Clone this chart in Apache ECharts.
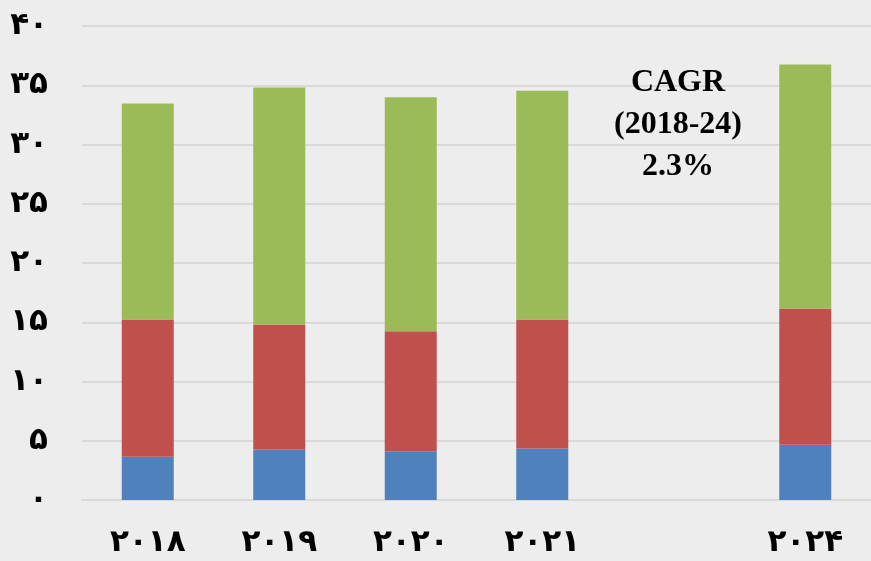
<!DOCTYPE html>
<html>
<head>
<meta charset="utf-8">
<script src="https://cdn.jsdelivr.net/npm/echarts@6/dist/echarts.min.js"></script>
<style>
  html, body { margin: 0; padding: 0; background: #ededed; }
  #chart { width: 871px; height: 561px; }
</style>
</head>
<body>
<div id="chart"></div>
<script>
// categories (empty slot between 2021 and 2024)
var years = ['۲۰۱۸', '۲۰۱۹', '۲۰۲۰', '۲۰۲۱', '', '۲۰۲۴'];
// stacked segments
var blueVals = [3.65, 4.26, 4.12, 4.35, null, 4.66];
var redVals = [11.58, 10.55, 10.13, 10.88, null, 11.50];
var greenVals = [18.23, 20.0, 19.74, 19.30, null, 20.59];
var persianDigits = ['۰', '۱', '۲', '۳', '۴', '۵', '۶', '۷', '۸', '۹'];
var noteLines = ['CAGR', '(2018-24)', '2.3%'];

function toPersian(n) {
    return String(n).replace(/[0-9]/g, function (d) { return persianDigits[+d]; });
}

document.addEventListener("DOMContentLoaded", function () {
    var myChart = echarts.init(document.getElementById('chart'));

    var option = {
        backgroundColor: '#ededed',
        animation: false,
        grid: { left: 82, right: 0, top: 26, bottom: 61 },
        xAxis: {
            type: 'category',
            data: years,
            axisLine: { show: true, lineStyle: { color: '#d9d9d9', width: 2 } },
            axisTick: { show: false },
            axisLabel: {
                margin: 27,
                fontFamily: 'DejaVu Sans',
                fontWeight: 'bold',
                fontSize: 31,
                color: '#000'
            }
        },
        yAxis: {
            type: 'value',
            min: 0,
            max: 40,
            interval: 5,
            axisLine: { show: false },
            axisTick: { show: false },
            splitLine: { lineStyle: { color: '#d9d9d9', width: 2 } },
            axisLabel: {
                margin: 34,
                fontFamily: 'DejaVu Sans',
                fontWeight: 'bold',
                fontSize: 31,
                color: '#000',
                formatter: function (v) { return toPersian(v); }
            }
        },
        series: [
            {
                name: 'a',
                type: 'bar',
                stack: 'total',
                barWidth: 52,
                itemStyle: { color: '#4f81bd' },
                data: blueVals
            },
            {
                name: 'b',
                type: 'bar',
                stack: 'total',
                barWidth: 52,
                itemStyle: { color: '#c0504d' },
                data: redVals
            },
            {
                name: 'c',
                type: 'bar',
                stack: 'total',
                barWidth: 52,
                itemStyle: { color: '#9bbb59' },
                data: greenVals
            }
        ],
        graphic: [
            {
                type: 'text',
                x: 678,
                y: 62,
                z: 100,
                style: {
                    text: noteLines.join('\n'),
                    textAlign: 'center',
                    fontFamily: 'Liberation Serif',
                    fontWeight: 'bold',
                    fontSize: 32,
                    lineHeight: 42,
                    fill: '#000'
                }
            }
        ]
    };

    myChart.setOption(option);
});
</script>
</body>
</html>
